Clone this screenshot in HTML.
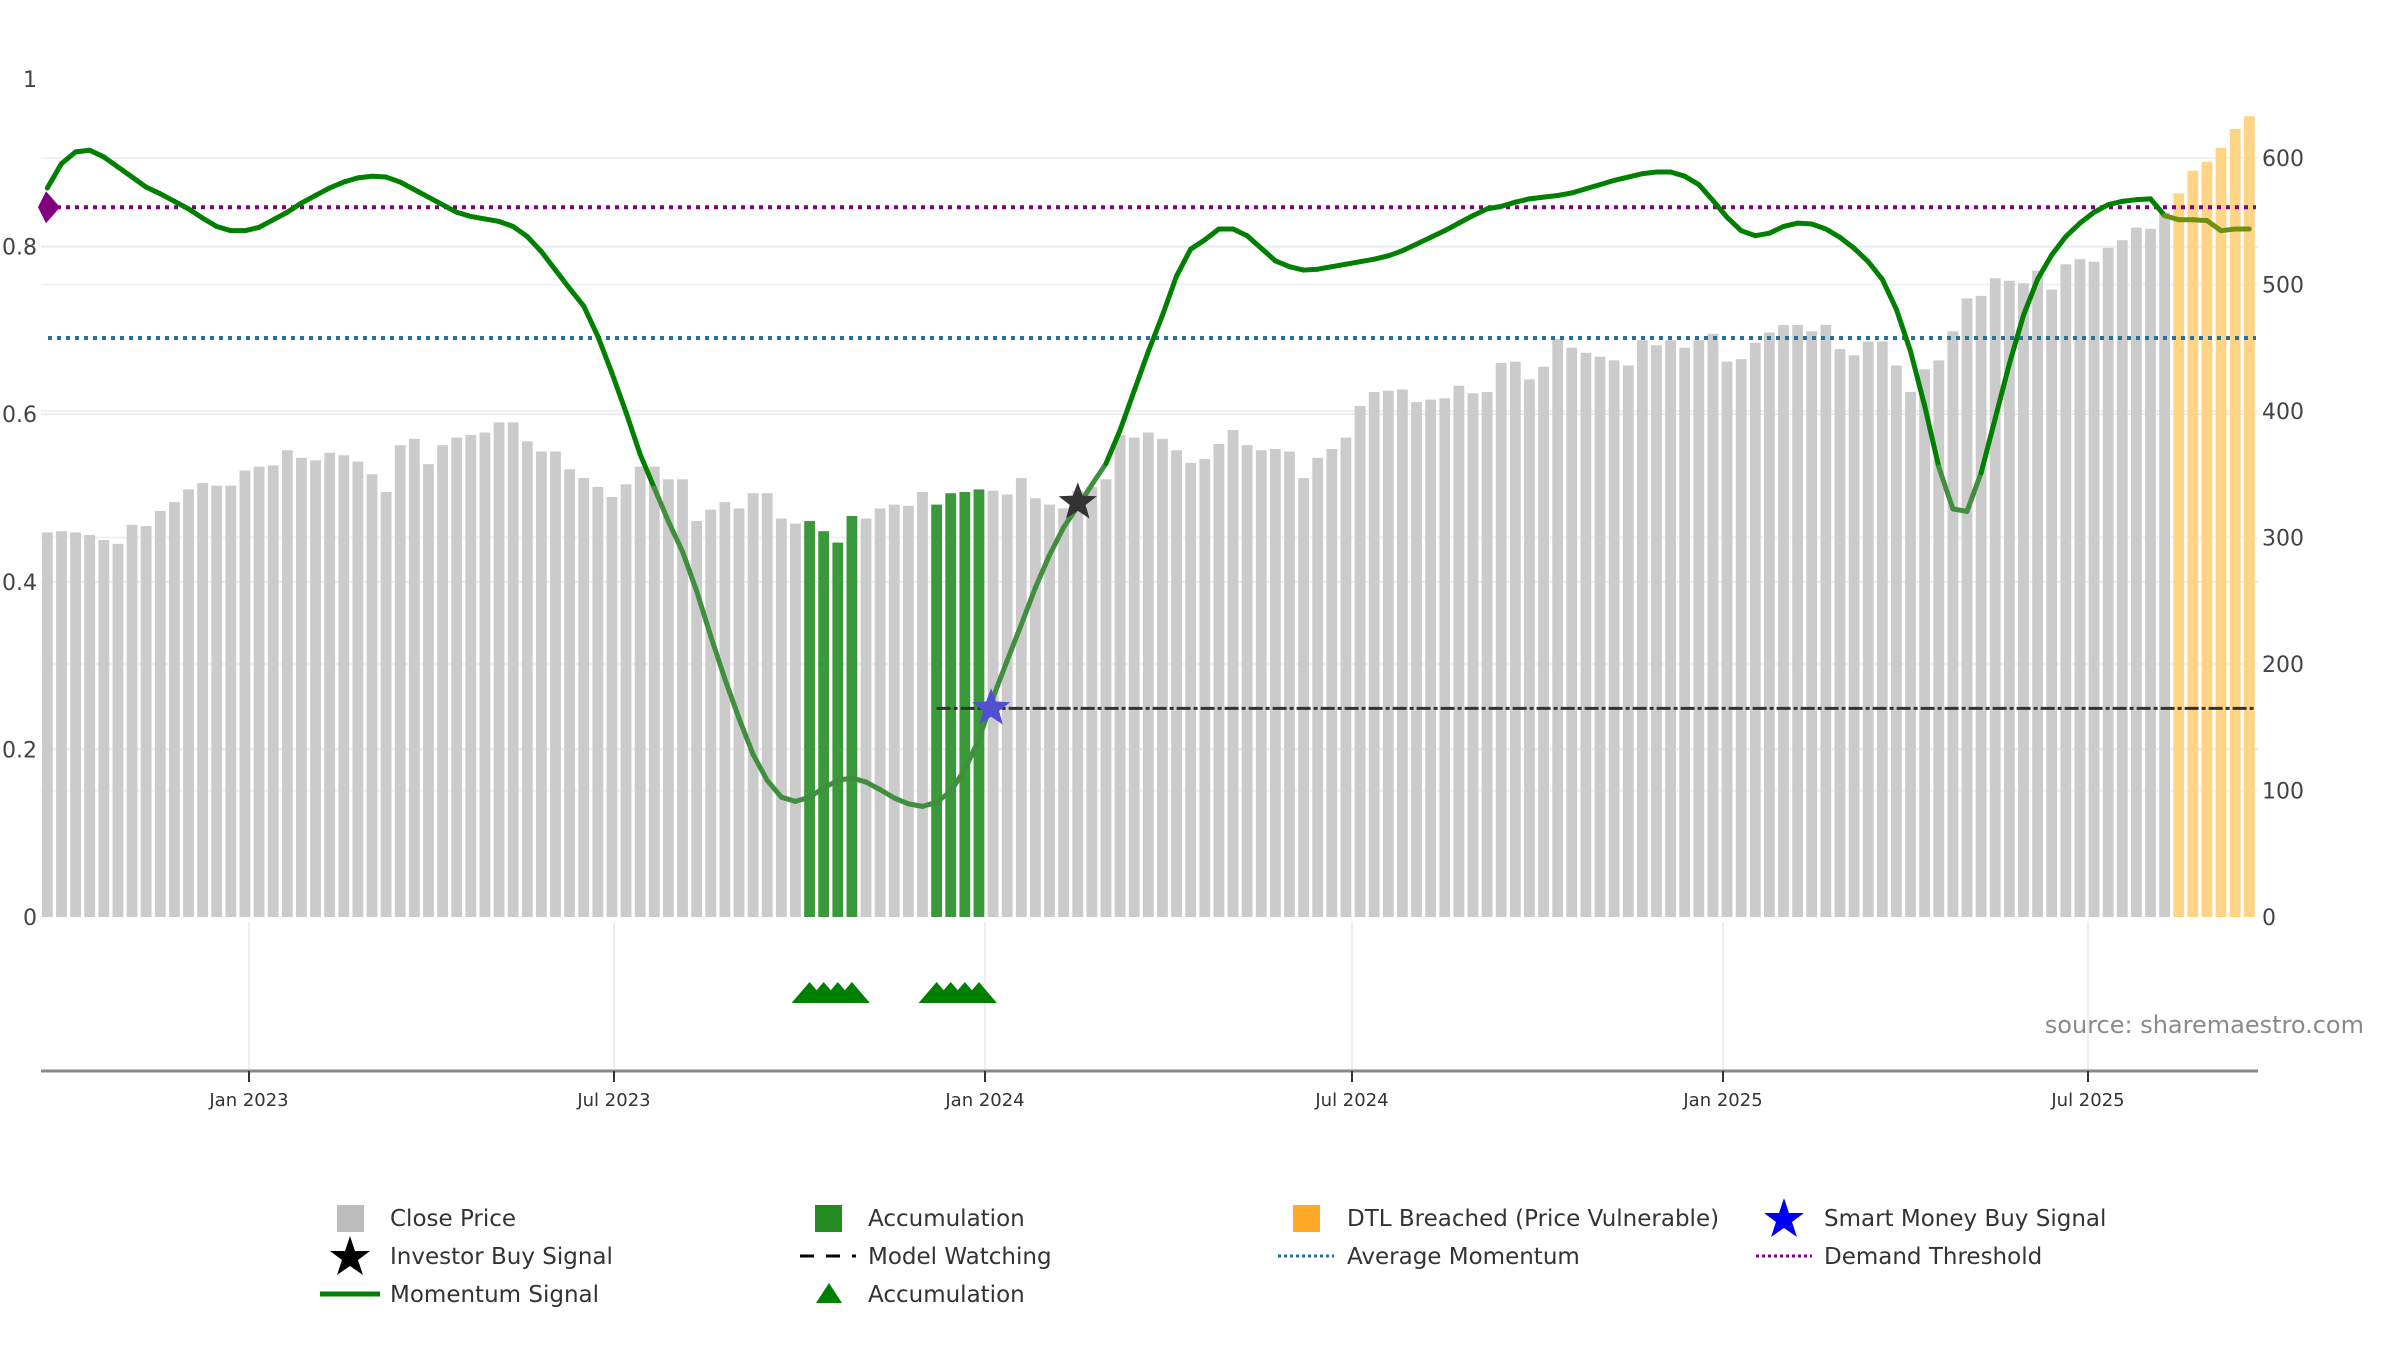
<!DOCTYPE html>
<html><head><meta charset="utf-8"><style>
html,body{margin:0;padding:0;background:#fff;}
svg{display:block;font-family:"DejaVu Sans","Liberation Sans",sans-serif;}
</style></head><body>
<svg id="chart" width="2400" height="1350" viewBox="0 0 2400 1350">
<g id="grid"></g>
<g id="bars"></g>
<g id="refs"></g>
<g id="lines"></g>
<g id="marks"></g>
<g id="axes"></g>
<text x="2364" y="1033" text-anchor="end" font-size="24" fill="#8a8a8a">source: sharemaestro.com</text>
<g id="legend" font-size="23" fill="#333">
 <g><rect x="337" y="1205" width="27" height="27" fill="#bdbdbd"/><text x="390" y="1226">Close Price</text></g>
 <g><rect x="815" y="1205" width="27" height="27" fill="#228b22"/><text x="868" y="1226">Accumulation</text></g>
 <g><rect x="1293" y="1205" width="27" height="27" fill="#ffa726"/><text x="1347" y="1226">DTL Breached (Price Vulnerable)</text></g>
 <g><polygon points="1784,1198 1789,1213 1804,1213 1792,1222 1797,1237 1784,1228 1771,1237 1776,1222 1764,1213 1779,1213" fill="#0000ee"/><text x="1824" y="1226">Smart Money Buy Signal</text></g>
 <g><polygon points="350,1236 355,1251 370,1251 358,1260 363,1275 350,1266 337,1275 342,1260 330,1251 345,1251" fill="#000"/><text x="390" y="1264">Investor Buy Signal</text></g>
 <g><line x1="800" y1="1256" x2="856" y2="1256" stroke="#000" stroke-width="3" stroke-dasharray="14,12"/><text x="868" y="1264">Model Watching</text></g>
 <g><line x1="1278" y1="1256" x2="1334" y2="1256" stroke="#2a6f97" stroke-width="3" stroke-dasharray="3,3"/><text x="1347" y="1264">Average Momentum</text></g>
 <g><line x1="1756" y1="1256" x2="1812" y2="1256" stroke="#800080" stroke-width="3" stroke-dasharray="3,3"/><text x="1824" y="1264">Demand Threshold</text></g>
 <g><line x1="320" y1="1294" x2="380" y2="1294" stroke="#008000" stroke-width="5"/><text x="390" y="1302">Momentum Signal</text></g>
 <g><polygon points="829,1283 842,1303 816,1303" fill="#008000"/><text x="868" y="1302">Accumulation</text></g>
</g>
</svg>
<script>
const startDate = "2022-09-23";
const prices = [304,305,304,302,298,295,310,309,321,328,338,343,341,341,353,356,357,369,363,361,367,365,360,350,336,373,378,358,373,379,381,383,391,391,376,368,368,354,347,340,332,342,356,356,346,346,313,322,328,323,335,335,315,311,313,305,296,317,315,323,326,325,336,326,335,336,338,337,334,347,331,326,323,337,340,346,381,379,383,378,369,359,362,374,385,373,369,370,368,347,363,370,379,404,415,416,417,407,409,410,420,414,415,438,439,425,435,457,450,446,443,440,436,456,452,456,450,456,461,439,441,454,462,468,468,463,468,449,444,455,455,436,415,433,440,463,489,491,505,503,501,511,496,516,520,518,529,535,545,544,557,572,590,597,608,623,633];
const momentum = [0.87,0.899,0.913,0.915,0.907,0.895,0.883,0.871,0.863,0.854,0.845,0.834,0.824,0.819,0.819,0.823,0.832,0.841,0.852,0.861,0.870,0.877,0.882,0.884,0.883,0.877,0.868,0.859,0.850,0.841,0.836,0.833,0.830,0.824,0.812,0.794,0.772,0.750,0.729,0.693,0.649,0.602,0.552,0.512,0.472,0.436,0.389,0.335,0.284,0.237,0.194,0.163,0.143,0.138,0.143,0.154,0.163,0.166,0.161,0.152,0.142,0.135,0.132,0.137,0.150,0.176,0.212,0.262,0.306,0.349,0.393,0.432,0.465,0.490,0.516,0.541,0.581,0.628,0.675,0.718,0.765,0.797,0.808,0.821,0.821,0.813,0.798,0.783,0.776,0.772,0.773,0.776,0.779,0.782,0.785,0.789,0.795,0.803,0.811,0.819,0.828,0.837,0.845,0.848,0.853,0.857,0.859,0.861,0.864,0.869,0.874,0.879,0.883,0.887,0.889,0.889,0.884,0.874,0.855,0.835,0.819,0.813,0.816,0.824,0.828,0.827,0.821,0.811,0.798,0.782,0.761,0.725,0.675,0.610,0.537,0.487,0.484,0.530,0.595,0.660,0.718,0.761,0.790,0.812,0.828,0.841,0.850,0.854,0.856,0.857,0.837,0.832,0.832,0.831,0.819,0.821,0.821];
const accumulationWeeks = [54,55,56,57,63,64,65,66];
const dtlStart = 151;
const demandThreshold = 0.847;
const avgMomentum = 0.691;
const modelWatching = 0.249;
const modelWatchStart = 63;
const smartMoneyWeek = 67;
const investorWeek = 73;
const leftTicks = [0,0.2,0.4,0.6,0.8,1];
const leftTickLabels = ["0","0.2","0.4","0.6","0.8","1"];
const rightTicks = [0,100,200,300,400,500,600];
const xTickDates = ["2023-01-01","2023-07-01","2024-01-01","2024-07-01","2025-01-01","2025-07-01"];
const xTickLabels = ["Jan 2023","Jul 2023","Jan 2024","Jul 2024","Jan 2025","Jul 2025"];

const NS="http://www.w3.org/2000/svg";
const X0=41, X1=2258, Y0=917;
const DAY=86400000, ref=Date.UTC(2023,0,1), PXD=(985-249)/365;
function xDate(ms){return 249+(ms-ref)/DAY*PXD;}
function weekMs(i){const p=startDate.split("-");return Date.UTC(+p[0],+p[1]-1,+p[2])+i*7*DAY;}
function xw(i){return xDate(weekMs(i));}
function yL(v){return Y0-v*838;}
function yR(v){return Y0-v*1.265;}
function mk(tag,attrs,parent){const e=document.createElementNS(NS,tag);for(const k in attrs)e.setAttribute(k,attrs[k]);parent.appendChild(e);return e;}
const G=id=>document.getElementById(id);

leftTicks.forEach((t,k)=>{if(t>0&&t<1){const l=mk('line',{x1:X0,x2:X1,y1:yL(t),y2:yL(t),stroke:'#e8ebf0','stroke-width':2},G('grid'));

}});
rightTicks.forEach(t=>{if(t>0){const l=mk('line',{x1:X0,x2:X1,y1:yR(t),y2:yR(t),stroke:'#eef0f4','stroke-width':2},G('grid'));

}});
xTickDates.forEach(d=>{const p=d.split("-");const x=xDate(Date.UTC(+p[0],+p[1]-1,+p[2]));
const l=mk('line',{x1:x,x2:x,y1:922,y2:1070,stroke:'#eceef2','stroke-width':2},G('grid'));

});

const bw=10.8;
prices.forEach((v,i)=>{
 let fill='#cbcbcb';
 if(accumulationWeeks.includes(i))fill='#3a9a3a';
 else if(i>=dtlStart)fill='#ffd485';
 const r=mk('rect',{x:xw(i)-bw/2,y:yR(v),width:bw,height:Y0-yR(v),fill:fill},G('bars'));
 
 
});

let l=mk('line',{x1:48,x2:2256,y1:yL(demandThreshold),y2:yL(demandThreshold),stroke:'#800080','stroke-width':4,'stroke-dasharray':'4,5'},G('refs'));


l=mk('line',{x1:48,x2:2256,y1:yL(avgMomentum),y2:yL(avgMomentum),stroke:'#2a6f97','stroke-width':4,'stroke-dasharray':'4,5'},G('refs'));


l=mk('line',{x1:xw(modelWatchStart),x2:2256,y1:yL(modelWatching),y2:yL(modelWatching),stroke:'#333','stroke-width':3,'stroke-dasharray':'14,3,4,3'},G('refs'));



for(let i=0;i<momentum.length-1;i++){
 const m=(momentum[i]+momentum[i+1])/2;
 const faded = m<0.53 || i>=dtlStart-1;
 const s=mk('line',{x1:xw(i),y1:yL(momentum[i]),x2:xw(i+1),y2:yL(momentum[i+1]),stroke:faded?(i>=dtlStart-1?'#6f8f10':'#3f8f3f'):'#008000','stroke-width':5,'stroke-linecap':'round'},G('lines'));
 
 
}

function star(cx,cy,R,fill){let pts=[];for(let k=0;k<10;k++){const r=k%2?R*0.42:R;const a=-Math.PI/2+k*Math.PI/5;pts.push((cx+r*Math.cos(a)).toFixed(1)+','+(cy+r*Math.sin(a)).toFixed(1));}
 return mk('polygon',{points:pts.join(' '),fill:fill},G('marks'));}
let s1=star(xw(smartMoneyWeek)-2,yL(modelWatching),20,'#5050d0');


let s2=star(xw(investorWeek),yL(momentum[investorWeek])-4,20,'#333');


const dy=yL(demandThreshold);
const dm=mk('polygon',{points:`46,${dy-16} 60,${dy} 46,${dy+16} 38,${dy}`,fill:'#800080'},G('marks'));


accumulationWeeks.forEach(i=>{const x=xw(i);
 const t=mk('polygon',{points:`${x-18},1003 ${x},982 ${x+18},1003`,fill:'#008000'},G('marks'));
 
 });

const ax=G('axes');
l=mk('line',{x1:X0,x2:X1,y1:1071,y2:1071,stroke:'#888','stroke-width':3},ax);


xTickDates.forEach((d,k)=>{const p=d.split("-");const x=xDate(Date.UTC(+p[0],+p[1]-1,+p[2]));
 const tk=mk('line',{x1:x,x2:x,y1:1071,y2:1082,stroke:'#333','stroke-width':2},ax);
 
 
 const tx=mk('text',{x:x,y:1106,'text-anchor':'middle','font-size':18,fill:'#333'},ax);tx.textContent=xTickLabels[k];
 
 });
leftTicks.forEach((t,k)=>{const tx=mk('text',{x:37,y:yL(t)+8,'text-anchor':'end','font-size':22,fill:'#444'},ax);tx.textContent=leftTickLabels[k];
 
 });
rightTicks.forEach(t=>{const tx=mk('text',{x:2262,y:yR(t)+8,'font-size':22,fill:'#444'},ax);tx.textContent=String(t);
 
 });
</script>
</body></html>
